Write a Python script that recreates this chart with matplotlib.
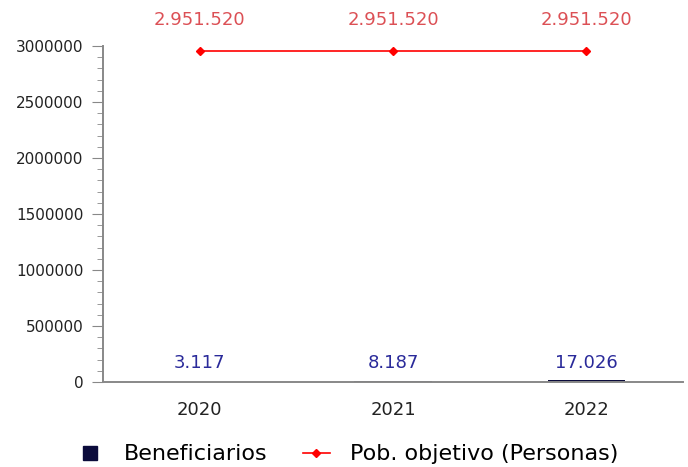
import matplotlib
matplotlib.use("Agg")
import matplotlib.pyplot as plt
from matplotlib.ticker import MultipleLocator, StrMethodFormatter
from matplotlib.lines import Line2D

years = ["2020", "2021", "2022"]
beneficiarios = [3117, 8187, 17026]
poblacion_objetivo = [2951520, 2951520, 2951520]


def fmt_miles(v):
    return f"{v:,}".replace(",", ".")


fig = plt.figure(figsize=(6.88, 4.67), dpi=100)
ax = fig.add_axes([0.1497, 0.182, 0.843, 0.7195])

x = range(len(years))
ax.bar(x, beneficiarios, width=0.4, color="#0b0b3b", zorder=1)
ax.plot(x, poblacion_objetivo, color="red", lw=1.2, marker="D", ms=4, zorder=3)

# etiquetas de beneficiarios a altura fija sobre el eje
for i, v in enumerate(beneficiarios):
    ax.annotate(fmt_miles(v), (i, 0), xytext=(0, 13.5), textcoords="offset points",
                ha="center", va="center", fontsize=13, color="#2a2a9a")
for i, v in enumerate(poblacion_objetivo):
    ax.annotate(fmt_miles(v), (i, v), xytext=(0, 22.5), textcoords="offset points",
                ha="center", va="center", fontsize=13, color="#dc5055")

ax.set_xlim(-0.5, 2.5)
ax.set_ylim(0, 3000000)
ax.set_xticks(list(x))
ax.set_xticklabels(years)
ax.yaxis.set_major_locator(MultipleLocator(500000))
ax.yaxis.set_minor_locator(MultipleLocator(100000))
ax.yaxis.set_major_formatter(StrMethodFormatter("{x:.0f}"))

for s in ("top", "right"):
    ax.spines[s].set_visible(False)
for s in ("left", "bottom"):
    ax.spines[s].set_color("#888888")
    ax.spines[s].set_linewidth(1.4)
    ax.spines[s].set_zorder(4)

ax.tick_params(axis="y", which="major", length=8, color="#888888", labelsize=11,
               labelcolor="#222222", pad=6)
ax.tick_params(axis="y", which="minor", length=4.5, color="#888888")
ax.tick_params(axis="x", length=0, labelsize=13, labelcolor="#222222", pad=14)

handles = [
    Line2D([], [], color="#0b0b3b", lw=0, marker="s", ms=10),
    Line2D([], [], color="red", lw=1.2, marker="D", ms=4),
]
fig.legend(handles, ["Beneficiarios", "Pob. objetivo (Personas)"],
           loc="lower center", bbox_to_anchor=(0.505, -0.037), ncol=2, frameon=False,
           fontsize=16, handlelength=1.2, handletextpad=0.9, columnspacing=1.6)

fig.savefig("out.png", dpi=100)
